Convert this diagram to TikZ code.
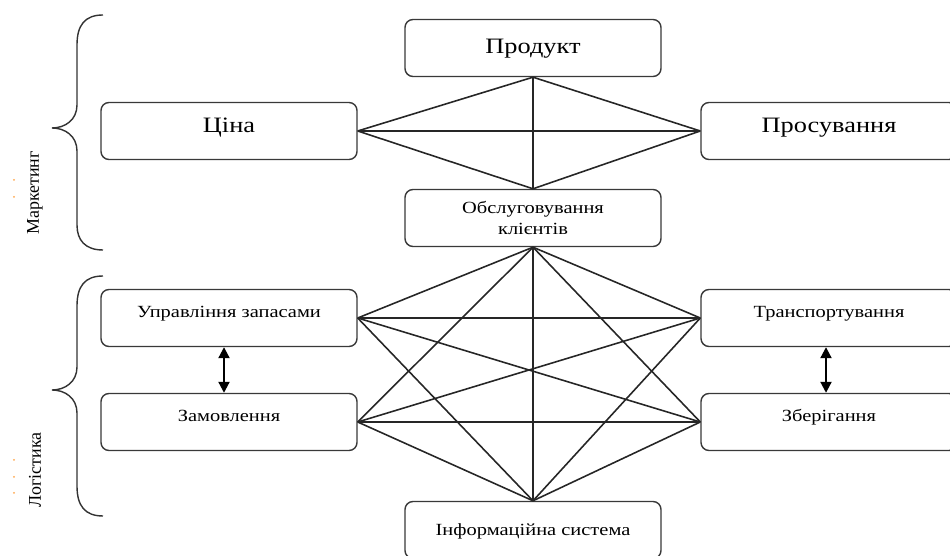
\documentclass[tikz,border=0pt]{standalone}
\usepackage{fontspec}
\setmainfont{Liberation Serif}[FakeStretch=1.2]
\newfontfamily\plainserif{Liberation Serif}
\usepackage{tikz}
\usetikzlibrary{positioning,arrows.meta}

\begin{document}
\begin{tikzpicture}[
    box/.style={draw=gray!45!black, line width=0.8pt, fill=white, rounded corners=0.16cm, minimum width=5.12cm, minimum height=1.14cm, inner sep=0pt, align=center},
    bigbox/.style={box, font=\fontsize{12.5}{15}\selectfont, text height=9pt, text depth=7.5pt},
    smallbox/.style={box, font=\fontsize{9.7}{11.6}\selectfont, text height=7pt, text depth=7.4pt},
    link/.style={draw=black!85, line width=0.9pt},
    twoway/.style={draw=black, line width=1.2pt, {Triangle[width=2.2mm,length=2.2mm]}-{Triangle[width=2.2mm,length=2.2mm]}},
    bracepath/.style={draw=gray!40!black, line width=0.8pt},
    sidelabel/.style={font=\plainserif\fontsize{10.2}{12}\selectfont, rotate=90}
]
\useasboundingbox (0,0) rectangle (19,11.12);

\node[bigbox, text depth=3pt] (prod) at (10.66,10.16) {Продукт};
\node[bigbox] (price) at (4.58,8.50) {Ціна};
\node[bigbox] (promo) at (16.58,8.50) {Просування};
\node[box, font=\fontsize{9.7}{11.4}\selectfont] (serv) at (10.66,6.76) {Обслуговування\\клієнтів};

\node[smallbox] (stock) at (4.58,4.76) {Управління запасами};
\node[smallbox] (order) at (4.58,2.68) {Замовлення};
\node[smallbox] (trans) at (16.58,4.76) {Транспортування};
\node[smallbox] (store) at (16.58,2.68) {Зберігання};
\node[smallbox, text depth=1pt] (info) at (10.66,0.52) {Інформаційна система};

\foreach \a/\b in {price.east/promo.west, price.east/prod.south, price.east/serv.north,
                   promo.west/prod.south, promo.west/serv.north, prod.south/serv.north}
    \draw[link] (\a) -- (\b);

\foreach \a/\b in {serv.south/stock.east, serv.south/order.east, serv.south/trans.west,
                   serv.south/store.west, serv.south/info.north,
                   stock.east/trans.west, stock.east/store.west, stock.east/info.north,
                   order.east/trans.west, order.east/store.west, order.east/info.north,
                   trans.west/info.north, store.west/info.north}
    \draw[link] (\a) -- (\b);

\draw[twoway] ([xshift=-0.1cm]stock.south) -- ([xshift=-0.1cm]order.north);
\draw[twoway] ([xshift=-0.06cm]trans.south) -- ([xshift=-0.06cm]store.north);

\draw[bracepath] (2.06,10.82) .. controls (1.70,10.82) and (1.54,10.62) .. (1.54,10.22) -- (1.54,9.02)
    .. controls (1.54,8.72) and (1.30,8.56) .. (1.04,8.56)
    .. controls (1.30,8.56) and (1.54,8.40) .. (1.54,8.10) -- (1.54,6.62)
    .. controls (1.54,6.32) and (1.70,6.12) .. (2.06,6.12);
\draw[bracepath] (2.06,5.60) .. controls (1.70,5.60) and (1.54,5.40) .. (1.54,5.00) -- (1.54,3.78)
    .. controls (1.54,3.48) and (1.30,3.32) .. (1.04,3.32)
    .. controls (1.30,3.32) and (1.54,3.16) .. (1.54,2.86) -- (1.54,1.40)
    .. controls (1.54,1.00) and (1.70,0.80) .. (2.06,0.80);

\node[sidelabel] (mark) at (0.70,7.26) {Маркетинг};
\node[sidelabel] (logi) at (0.70,1.72) {Логістика};

\foreach \y in {7.52,7.18,1.92,1.58,1.26}
    \fill[orange!70] (0.28,\y) circle (0.02);

\end{tikzpicture}
\end{document}
